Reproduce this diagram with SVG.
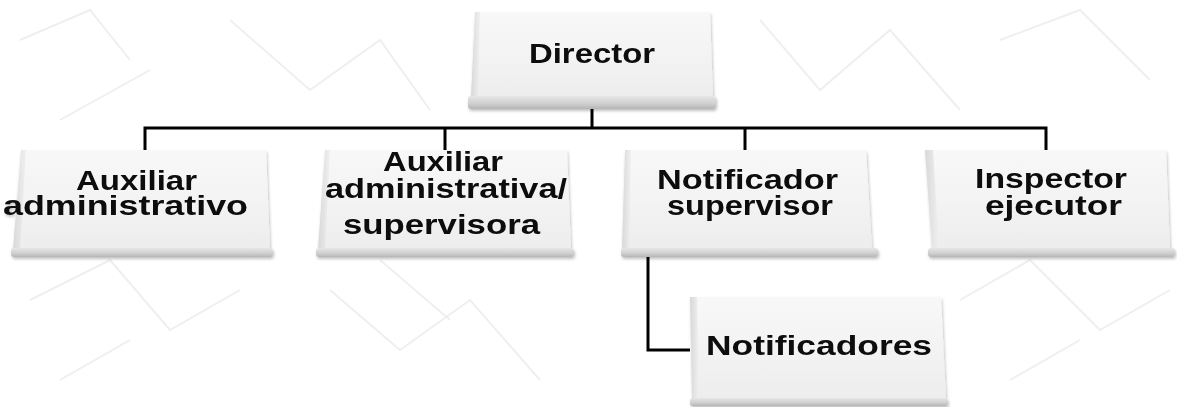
<svg xmlns="http://www.w3.org/2000/svg" width="1177" height="407" viewBox="0 0 1177 407">
<defs>
<linearGradient id="face" x1="0" y1="0" x2="0" y2="1">
<stop offset="0" stop-color="#f8f8f8"/>
<stop offset="0.5" stop-color="#f3f3f3"/>
<stop offset="1" stop-color="#ededed"/>
</linearGradient>
<linearGradient id="side" x1="0" y1="0" x2="1" y2="0">
<stop offset="0" stop-color="#d8d8d8"/>
<stop offset="1" stop-color="#f0f0f0"/>
</linearGradient>
<linearGradient id="bar" x1="0" y1="0" x2="0" y2="1">
<stop offset="0" stop-color="#e6e6e6"/>
<stop offset="0.6" stop-color="#cfcfcf"/>
<stop offset="1" stop-color="#b5b5b5"/>
</linearGradient>
<filter id="sh" x="-5%" y="-10%" width="110%" height="130%">
<feGaussianBlur in="SourceAlpha" stdDeviation="1.5"/>
<feOffset dx="1" dy="2" result="b"/>
<feComponentTransfer><feFuncA type="linear" slope="0.25"/></feComponentTransfer>
<feMerge><feMergeNode/><feMergeNode in="SourceGraphic"/></feMerge>
</filter>
</defs>
<style>
.face{fill:url(#face);}
.side{fill:url(#side);}
.bar{fill:url(#bar);}
.t{font-family:"Liberation Sans",Arial,sans-serif;font-weight:bold;font-size:28px;fill:#0a0a0a;}
.c{fill:none;stroke:#000;stroke-width:3;}
.wm{fill:none;stroke:#efefef;stroke-width:2;}
</style>
<rect width="1177" height="407" fill="#ffffff"/>
<g id="watermark">
<path class="wm" d="M20 40 L90 10 L130 60 M60 120 L150 70"/>
<path class="wm" d="M230 20 L310 90 L380 40 L430 110"/>
<path class="wm" d="M760 20 L820 90 L890 30 L960 110 M1000 40 L1080 10 L1150 80"/>
<path class="wm" d="M30 300 L110 260 L170 330 L240 290 M60 380 L130 340"/>
<path class="wm" d="M330 290 L400 350 L470 300 L540 380 M380 260 L450 320"/>
<path class="wm" d="M960 300 L1030 260 L1100 330 L1170 290 M1010 380 L1080 340"/>
</g>
<g id="connectors">
<path class="c" d="M592 108 V128"/>
<path class="c" d="M145 150 V128 H1046 V150"/>
<path class="c" d="M445 128 V150"/>
<path class="c" d="M745 128 V150"/>
<path class="c" d="M648 256 V350 H690"/>
</g>
<g id="director" filter="url(#sh)">
<polygon class="face" points="475,12 710,12 713,98 471,98"/>
<polygon class="side" points="475,12 480,12 478,98 471,98"/>
<rect class="bar" x="468" y="96" width="248" height="13" rx="3"/>
<text class="t" x="529" y="63" textLength="126" lengthAdjust="spacingAndGlyphs">Director</text>
</g>
<g id="aux1" filter="url(#sh)">
<polygon class="face" points="21,150 266,150 270,250 13,250"/>
<polygon class="side" points="21,150 26,150 20,250 13,250"/>
<rect class="bar" x="11" y="248" width="262" height="9" rx="3"/>
<text class="t"><tspan x="76" y="190" textLength="121" lengthAdjust="spacingAndGlyphs">Auxiliar</tspan><tspan x="3" y="215" textLength="245" lengthAdjust="spacingAndGlyphs">administrativo</tspan></text>
</g>
<g id="aux2" filter="url(#sh)">
<polygon class="face" points="325,150 567,150 571,250 318,250"/>
<polygon class="side" points="325,150 330,150 325,250 318,250"/>
<rect class="bar" x="316" y="248" width="258" height="9" rx="3"/>
<text class="t"><tspan x="383" y="171" textLength="120" lengthAdjust="spacingAndGlyphs">Auxiliar</tspan><tspan x="325" y="198" textLength="242" lengthAdjust="spacingAndGlyphs">administrativa/</tspan><tspan x="343" y="234" textLength="197" lengthAdjust="spacingAndGlyphs">supervisora</tspan></text>
</g>
<g id="notsup" filter="url(#sh)">
<polygon class="face" points="625,150 866,150 872,250 622,250"/>
<polygon class="side" points="625,150 631,150 629,250 622,250"/>
<rect class="bar" x="621" y="248" width="257" height="9" rx="3"/>
<text class="t"><tspan x="657" y="189" textLength="181" lengthAdjust="spacingAndGlyphs">Notificador</tspan><tspan x="667" y="215" textLength="166" lengthAdjust="spacingAndGlyphs">supervisor</tspan></text>
</g>
<g id="inspector" filter="url(#sh)">
<polygon class="face" points="925,150 1166,150 1170,250 932,250"/>
<polygon class="side" points="925,150 933,150 939,250 932,250"/>
<rect class="bar" x="928" y="248" width="247" height="9" rx="3"/>
<text class="t"><tspan x="975" y="188" textLength="152" lengthAdjust="spacingAndGlyphs">Inspector</tspan><tspan x="985" y="215" textLength="137" lengthAdjust="spacingAndGlyphs">ejecutor</tspan></text>
</g>
<g id="notificadores" filter="url(#sh)">
<polygon class="face" points="690,297 941,297 946,400 692,400"/>
<polygon class="side" points="690,297 697,297 699,400 692,400"/>
<rect class="bar" x="690" y="398" width="258" height="8" rx="3"/>
<text class="t" x="706" y="355" textLength="226" lengthAdjust="spacingAndGlyphs">Notificadores</text>
</g>
</svg>
